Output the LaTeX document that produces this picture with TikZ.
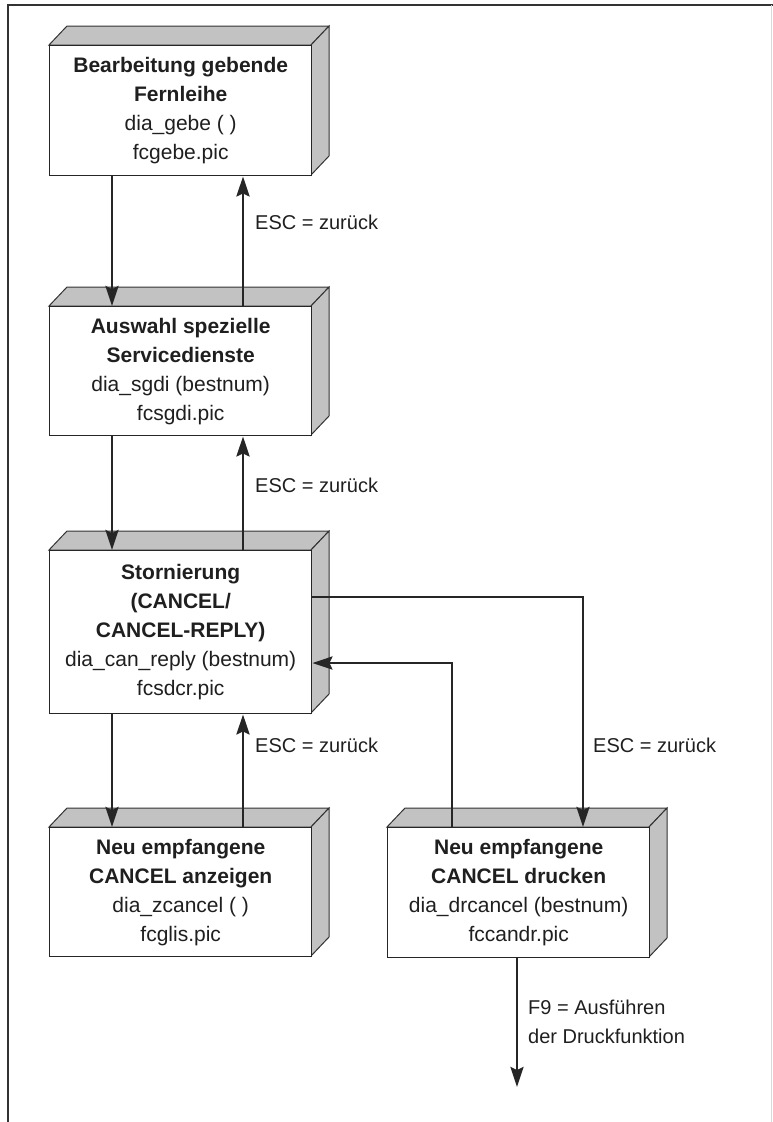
\documentclass[tikz,border=0pt]{standalone}
\usepackage{fontspec}
\setmainfont{Liberation Sans}
\usetikzlibrary{arrows.meta}
\tikzset{
  front/.style={draw=black!85, line width=1.4pt, fill=white, rectangle,
    minimum width=262pt, inner sep=0pt, align=center,
    font=\fontsize{21}{29}\selectfont, text=black!88, anchor=north west},
  shadeface/.style={draw=black!80, line width=1pt, fill=gray!48},
  arr/.style={draw=black!85, line width=2.8pt,
    -{Stealth[length=20pt,width=13pt,inset=3pt]}},
  lbl/.style={anchor=west, font=\fontsize{20}{29}\selectfont, text=black!88,
    inner sep=0pt, align=left},
}
\newcommand\cubebox[6]{%
  \filldraw[shadeface] (#2,#3) -- ++(18,-19) -- ++(#4,0) -- ++(-18,19) -- cycle;
  \filldraw[shadeface] (#2,#3) ++(#4,0) -- ++(18,-19) -- ++(0,#5) -- ++(-18,19) -- cycle;
  \node[front, minimum height=#5pt] (#1) at (#2,#3) {#6};
}
\begin{document}
\begin{tikzpicture}[x=1pt,y=-1pt]
\useasboundingbox (0,0) rectangle (773,1122);
% frame
\draw[line width=1.6pt, black!80] (8,1122) -- (8,5) -- (773,5);
\draw[line width=0.6pt, gray!30] (771,5) -- (771,1122);

\cubebox{b1}{49}{45}{262}{130}{\textbf{Bearbeitung gebende}\\\textbf{Fernleihe}\\dia\_gebe ( )\\fcgebe.pic}
\cubebox{b2}{49}{306}{262}{129}{\textbf{Auswahl spezielle}\\\textbf{Servicedienste}\\dia\_sgdi (bestnum)\\fcsgdi.pic}
\cubebox{b3}{49}{550}{262}{163}{\textbf{Stornierung}\\\textbf{(CANCEL/}\\\textbf{CANCEL-REPLY)}\\dia\_can\_reply (bestnum)\\fcsdcr.pic}
\cubebox{b4}{49}{827}{262}{129}{\textbf{Neu empfangene}\\\textbf{CANCEL anzeigen}\\dia\_zcancel ( )\\fcglis.pic}
\cubebox{b5}{387}{827}{262}{130}{\textbf{Neu empfangene}\\\textbf{CANCEL drucken}\\dia\_drcancel (bestnum)\\fccandr.pic}

% b1 <-> b2
\draw[arr] ([xshift=63pt]b1.south west) -- ([xshift=63pt]b2.north west);
\draw[arr] ([xshift=194pt]b2.north west) -- ([xshift=194pt]b1.south west);
\node[lbl] (l1) at (255,222) {ESC = zurück};
% b2 <-> b3
\draw[arr] ([xshift=63pt]b2.south west) -- ([xshift=63pt]b3.north west);
\draw[arr] ([xshift=194pt]b3.north west) -- ([xshift=194pt]b2.south west);
\node[lbl] (l2) at (255,485) {ESC = zurück};
% b3 <-> b4
\draw[arr] ([xshift=63pt]b3.south west) -- ([xshift=63pt]b4.north west);
\draw[arr] ([xshift=194pt]b4.north west) -- ([xshift=194pt]b3.south west);
\node[lbl] (l3) at (255,745) {ESC = zurück};
% b3 -> b5
\draw[arr] ([yshift=-47pt]b3.north east) -| ([xshift=196pt]b5.north west);
\node[lbl] (l4) at (593,745) {ESC = zurück};
% b5 -> b3
\draw[arr] ([xshift=65pt]b5.north west) |- ([yshift=-113pt]b3.north east);
% b5 down
\coordinate (end) at (517,1087);
\draw[arr] ([xshift=130pt]b5.south west) -- (end);
\node[lbl] (l5) at (528,1022) {F9 = Ausführen\\der Druckfunktion};
\end{tikzpicture}
\end{document}
